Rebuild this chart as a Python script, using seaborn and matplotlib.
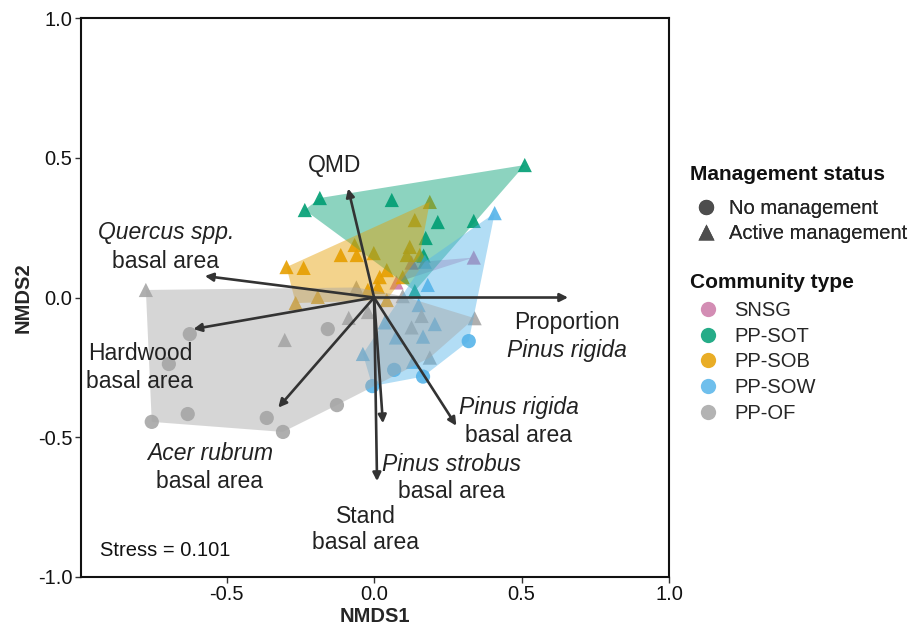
import numpy as np
import pandas as pd
import matplotlib
matplotlib.use("Agg")
import matplotlib.pyplot as plt
import seaborn as sns
from matplotlib.lines import Line2D

# ---- site scores (NMDS1, NMDS2) by community type and management status ----
snsg_active_x = [0.338, 0.127, 0.076]
snsg_active_y = [0.143, 0.125, 0.054]

sot_active_x = [0.511, -0.184, -0.235, 0.060, 0.338, 0.216, 0.175, 0.168, 0.138]
sot_active_y = [0.474, 0.356, 0.313, 0.349, 0.274, 0.270, 0.213, 0.150, 0.023]

sob_active_x = [0.189, 0.138, -0.066, -0.113, -0.059, -0.001, 0.121, 0.111, 0.155,
                0.043, 0.019, 0.097, 0.013, -0.021, -0.297, -0.239, -0.191, -0.266, 0.043]
sob_active_y = [0.342, 0.277, 0.188, 0.152, 0.152, 0.159, 0.181, 0.152, 0.152,
                0.098, 0.073, 0.073, 0.038, 0.027, 0.109, 0.106, 0.002, -0.020, -0.009]

sow_active_x = [0.409, 0.182, 0.151, 0.036, 0.206, 0.166, 0.074, -0.038, 0.132, 0.172]
sow_active_y = [0.302, 0.045, -0.027, -0.089, -0.095, -0.140, -0.143, -0.202, -0.230, 0.128]
sow_none_x = [0.321, 0.068, -0.006, 0.166]
sow_none_y = [-0.156, -0.259, -0.317, -0.283]

of_active_x = [-0.774, -0.303, -0.086, -0.060, -0.021, 0.161, 0.127, 0.341, 0.189, 0.097]
of_active_y = [0.027, -0.152, -0.073, 0.036, -0.052, -0.066, -0.107, -0.074, -0.215, 0.005]
of_none_x = [-0.625, -0.696, -0.754, -0.632, -0.364, -0.309, -0.126, -0.157]
of_none_y = [-0.131, -0.238, -0.445, -0.417, -0.431, -0.481, -0.385, -0.113]

community_order = ["SNSG", "PP-SOT", "PP-SOB", "PP-SOW", "PP-OF"]
community_colors = ["#CC79A7", "#009E73", "#E69F00", "#56B4E9", "#A6A6A6"]

# ---- environmental vectors (fitted) ----
vector_x = [-0.088, -0.574, -0.613, -0.325, 0.010, 0.030, 0.279, 0.658]
vector_y = [0.390, 0.077, -0.113, -0.394, -0.657, -0.450, -0.459, 0.000]

# vector labels: one entry per text line (text, italic?, x, y)
label_text = ["QMD",
              "Quercus spp.", "basal area",
              "Hardwood", "basal area",
              "Acer rubrum", "basal area",
              "Stand", "basal area",
              "Pinus strobus", "basal area",
              "Pinus rigida", "basal area",
              "Proportion", "Pinus rigida"]
label_italic = [False, True, False, False, False, True, False,
                False, False, True, False, True, False, False, True]
label_x = [-0.133, -0.706, -0.706, -0.794, -0.794, -0.557, -0.557,
           -0.028, -0.028, 0.263, 0.263, 0.490, 0.490, 0.653, 0.653]
label_y = [0.474, 0.231, 0.128, -0.199, -0.301, -0.557, -0.657,
           -0.784, -0.878, -0.596, -0.695, -0.395, -0.492, -0.090, -0.188]

stress_value = 0.101

# ---- assemble tidy table ----
def block(xs, ys, comm, status):
    return pd.DataFrame({"NMDS1": xs, "NMDS2": ys,
                         "Community type": comm, "Management status": status})

df = pd.concat([
    block(snsg_active_x, snsg_active_y, "SNSG", "Active management"),
    block(sot_active_x, sot_active_y, "PP-SOT", "Active management"),
    block(sob_active_x, sob_active_y, "PP-SOB", "Active management"),
    block(sow_active_x, sow_active_y, "PP-SOW", "Active management"),
    block(sow_none_x, sow_none_y, "PP-SOW", "No management"),
    block(of_active_x, of_active_y, "PP-OF", "Active management"),
    block(of_none_x, of_none_y, "PP-OF", "No management"),
], ignore_index=True)


def convex_hull(points):
    pts = sorted(map(tuple, points))
    if len(pts) <= 2:
        return np.array(pts)

    def cross(o, a, b):
        return (a[0] - o[0]) * (b[1] - o[1]) - (a[1] - o[1]) * (b[0] - o[0])

    lower, upper = [], []
    for p in pts:
        while len(lower) >= 2 and cross(lower[-2], lower[-1], p) <= 0:
            lower.pop()
        lower.append(p)
    for p in reversed(pts):
        while len(upper) >= 2 and cross(upper[-2], upper[-1], p) <= 0:
            upper.pop()
        upper.append(p)
    return np.array(lower[:-1] + upper[:-1])


sns.set_theme(style="white")
plt.rcParams["font.family"] = ["Liberation Sans", "DejaVu Sans"]

fig = plt.figure(figsize=(9.17, 6.33), dpi=100)
ax = fig.add_axes([0.088, 0.0885, 0.6415, 0.883])

palette = dict(zip(community_order, community_colors))
sns.scatterplot(data=df, x="NMDS1", y="NMDS2",
                hue="Community type", hue_order=community_order, palette=palette,
                style="Management status",
                markers={"No management": "o", "Active management": "^"},
                s=105, alpha=0.9, linewidth=0, legend=False, ax=ax, zorder=2)

# convex hulls per community type
for comm, col in zip(community_order, community_colors):
    sub = df[df["Community type"] == comm][["NMDS1", "NMDS2"]].values
    hull = convex_hull(sub)
    ax.fill(hull[:, 0], hull[:, 1], color=col, alpha=0.45, lw=0, zorder=3)

# environmental vectors
for vx, vy in zip(vector_x, vector_y):
    ax.annotate("", xy=(vx, vy), xytext=(0, 0),
                arrowprops=dict(arrowstyle="-|>", color="#333333", lw=1.9,
                                mutation_scale=12, shrinkA=0, shrinkB=0),
                zorder=5)

for t, it, lx, ly in zip(label_text, label_italic, label_x, label_y):
    ax.text(lx, ly, t, ha="center", va="center", fontsize=16.5,
            style="italic" if it else "normal", color="#222222", zorder=6)

ax.text(0.033, 0.047, f"Stress = {stress_value}", transform=ax.transAxes,
        ha="left", va="center", fontsize=14.5, color="#111111")

ax.set_xlim(-0.995, 1.0)
ax.set_ylim(-1.0, 1.0)
ax.set_xticks([-0.5, 0.0, 0.5, 1.0])
ax.set_yticks([-1.0, -0.5, 0.0, 0.5, 1.0])
ax.set_xticklabels(["-0.5", "0.0", "0.5", "1.0"])
ax.set_yticklabels(["-1.0", "-0.5", "0.0", "0.5", "1.0"])
ax.tick_params(axis="both", which="both", direction="out", length=4, width=1,
               color="#333333", labelsize=14.5, labelcolor="#111111", pad=2,
               bottom=True, left=True)
ax.set_xlabel("NMDS1", fontsize=14.5, fontweight="bold", labelpad=2)
ax.set_ylabel("NMDS2", fontsize=14.5, fontweight="bold", labelpad=4)
for sp in ax.spines.values():
    sp.set_color("#111111")
    sp.set_linewidth(1.5)

# legends: titles as text, entries as handle-only legends
fig.text(0.752, 1 - 175 / 633, "Management status", ha="left", va="center",
         fontsize=15, fontweight="bold", color="#111111")
fig.text(0.752, 1 - 283 / 633, "Community type", ha="left", va="center",
         fontsize=15, fontweight="bold", color="#111111")

mgmt_handles = [
    Line2D([], [], marker="o", color="none", markerfacecolor="#4D4D4D",
           markeredgecolor="none", markersize=11, label="No management"),
    Line2D([], [], marker="^", color="none", markerfacecolor="#4D4D4D",
           markeredgecolor="none", markersize=12, label="Active management"),
]
comm_handles = [
    Line2D([], [], marker="o", color="none", markerfacecolor=c, alpha=0.85,
           markeredgecolor="none", markersize=11, label=n)
    for n, c in zip(community_order, community_colors)
]
leg1 = fig.legend(handles=mgmt_handles, loc="upper left",
                  bbox_to_anchor=(698 / 917, 1 - 199 / 633),
                  frameon=False, fontsize=14.5, handlelength=0.8,
                  handletextpad=0.75, labelspacing=0.3, borderpad=0,
                  borderaxespad=0)
fig.add_artist(leg1)
leg2 = fig.legend(handles=comm_handles, loc="upper left",
                  bbox_to_anchor=(700 / 917, 1 - 301 / 633),
                  frameon=False, fontsize=14.5, handlelength=0.8,
                  handletextpad=0.9, labelspacing=0.33, borderpad=0,
                  borderaxespad=0)

fig.savefig("out.png", dpi=100)
